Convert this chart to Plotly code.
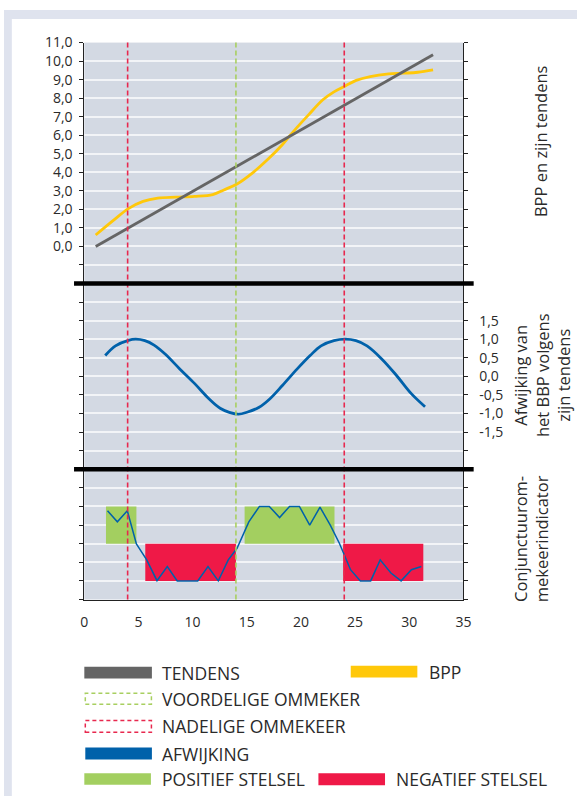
import plotly.graph_objects as go

# ---------------- data ----------------
trend_x = [1.05, 32.2]
trend_y = [0.0, 10.34]

bpp_x = [1.05, 2.71, 4.07, 5.42, 6.78, 8.47, 10.17, 11.86, 12.88, 14.1, 15.6, 16.95,
         18.3, 19.3, 20.7, 22.0, 23.05, 24.1, 25.1, 26.4, 28.1, 29.5, 30.8, 32.2]
bpp_y = [0.62, 1.42, 2.04, 2.43, 2.61, 2.66, 2.70, 2.80, 3.05, 3.37, 4.0, 4.70,
         5.5, 6.2, 7.1, 7.9, 8.34, 8.66, 8.96, 9.17, 9.31, 9.35, 9.40, 9.53]

dev_x = [1.93, 2.88, 4.07, 4.75, 5.59, 6.44, 7.46, 8.81, 10.17, 11.53, 12.54, 13.39, 14.24,
         15.08, 16.1, 17.12, 18.31, 19.66, 20.85, 21.86, 23.05, 24.07, 25.08, 26.1, 27.46,
         28.81, 30.17, 31.46]
dev_y = [0.56, 0.82, 0.97, 1.0, 0.96, 0.84, 0.60, 0.20, -0.19, -0.61, -0.86, -0.97, -1.02,
         -0.96, -0.84, -0.61, -0.24, 0.20, 0.56, 0.82, 0.96, 1.0, 0.96, 0.82, 0.47,
         0.03, -0.46, -0.82]

ind_x = [2.14, 3.05, 3.97, 4.81, 5.76, 6.71, 7.66, 8.58, 9.53, 10.47, 11.42, 12.37, 13.29,
         14.1, 15.19, 16.17, 17.08, 18.03, 18.95, 19.86, 20.81, 21.76, 22.71, 23.56, 24.58,
         25.49, 26.44, 27.32, 28.31, 29.25, 30.2, 31.12]
ind_y = [4.77, 4.17, 4.77, 2.98, 2.13, 1.01, 1.77, 1.0, 1.0, 1.0, 1.77, 1.0, 2.13,
         2.75, 4.17, 5.0, 5.0, 4.4, 5.0, 5.0, 3.99, 4.96, 3.99, 3.01, 1.6,
         1.0, 1.0, 2.13, 1.42, 1.0, 1.6, 1.77]

pos_start = [2.0, 14.8]
pos_end = [4.81, 23.1]
pos_range = [3, 5]
neg_start = [5.63, 23.9]
neg_end = [14.0, 31.3]
neg_range = [1, 3]

favourable_turns = [14]
unfavourable_turns = [4, 24]

x_ticks = [0, 5, 10, 15, 20, 25, 30, 35]
top_ticks = list(range(-2, 12))
mid_ticks = [-2.5, -2.0, -1.5, -1.0, -0.5, 0.0, 0.5, 1.0, 1.5, 2.0, 2.5]
bot_ticks = list(range(0, 8))

# ---------------- style ----------------
W, H = 585, 796
C_TREND = "#656565"
C_BPP = "#ffc80a"
C_DEV = "#0061aa"
C_POS = "#a3cf60"
C_NEG = "#ef1947"
C_RED = "#e8284e"
C_GREEN = "#a8cf60"
C_PLOT = "#d3d9e3"
C_TEXT = "#2a2a2a"
FONT = "Open Sans"


def px(x):
    return x / W


def py(y):
    return 1 - y / H


def fmt(v):
    return f"{v:.1f}".replace(".", ",")


fig = go.Figure()

# regime rectangles (bottom panel)
for s, e in zip(pos_start, pos_end):
    fig.add_trace(go.Scatter(x=[s, e, e, s, s],
                             y=[pos_range[0], pos_range[0], pos_range[1], pos_range[1], pos_range[0]],
                             fill="toself", fillcolor=C_POS, line=dict(width=0), mode="lines",
                             xaxis="x", yaxis="y3", hoverinfo="skip"))
for s, e in zip(neg_start, neg_end):
    fig.add_trace(go.Scatter(x=[s, e, e, s, s],
                             y=[neg_range[0], neg_range[0], neg_range[1], neg_range[1], neg_range[0]],
                             fill="toself", fillcolor=C_NEG, line=dict(width=0), mode="lines",
                             xaxis="x", yaxis="y3", hoverinfo="skip"))

fig.add_trace(go.Scatter(x=ind_x, y=ind_y, mode="lines", line=dict(color=C_DEV, width=1.5),
                         xaxis="x", yaxis="y3"))

fig.add_trace(go.Scatter(x=bpp_x, y=bpp_y, mode="lines", line=dict(color=C_BPP, width=2.8, shape="spline"),
                         xaxis="x", yaxis="y"))
fig.add_trace(go.Scatter(x=trend_x, y=trend_y, mode="lines", line=dict(color=C_TREND, width=2.8),
                         xaxis="x", yaxis="y"))

fig.add_trace(go.Scatter(x=dev_x, y=dev_y, mode="lines", line=dict(color=C_DEV, width=2.8, shape="spline"),
                         xaxis="x", yaxis="y2"))

shapes = []
# outer light strips
shapes.append(dict(type="rect", xref="paper", yref="paper", x0=0, x1=1, y0=py(9), y1=1,
                   fillcolor="#dfe3ee", line=dict(width=0), layer="below"))
shapes.append(dict(type="rect", xref="paper", yref="paper", x0=0, x1=px(8), y0=0, y1=1,
                   fillcolor="#dfe3ee", line=dict(width=0), layer="below"))

# turning point lines
for t in unfavourable_turns:
    shapes.append(dict(type="line", xref="x", yref="paper", x0=t, x1=t, y0=py(597), y1=py(33),
                       line=dict(color=C_RED, width=1.6, dash="5px,3px")))
for t in favourable_turns:
    shapes.append(dict(type="line", xref="x", yref="paper", x0=t, x1=t, y0=py(597), y1=py(33),
                       line=dict(color=C_GREEN, width=1.6, dash="5px,3px")))

# black separators
for yy in (277, 465):
    shapes.append(dict(type="line", xref="paper", yref="paper", x0=px(71.5), x1=px(479.5),
                       y0=py(yy), y1=py(yy), line=dict(color="#000000", width=4.5)))

# legend
legend_items = [
    ("TENDENS", 82, 151, 665, 677, C_TREND, None, 159),
    ("BPP", 354, 422, 664, 676, C_BPP, None, 432),
    ("VOORDELIGE OMMEKER", 83, 150.5, 692, 703, None, C_GREEN, 159),
    ("NADELIGE OMMEKEER", 83, 150.5, 719.5, 731.5, None, C_RED, 159),
    ("AFWIJKING", 83, 151, 747, 759, C_DEV, None, 159),
    ("POSITIEF STELSEL", 82, 150, 773, 784.5, C_POS, None, 159),
    ("NEGATIEF STELSEL", 321, 389, 773, 785, C_NEG, None, 398.5),
]
annotations = []
for name, x0, x1, y0, y1, fillc, dashc, tx in legend_items:
    if fillc:
        shapes.append(dict(type="rect", xref="paper", yref="paper", x0=px(x0), x1=px(x1),
                           y0=py(y1), y1=py(y0), fillcolor=fillc, line=dict(width=0)))
    else:
        shapes.append(dict(type="rect", xref="paper", yref="paper", x0=px(x0), x1=px(x1),
                           y0=py(y1), y1=py(y0), fillcolor="rgba(0,0,0,0)",
                           line=dict(color=dashc, width=1.5, dash="4px,3px")))
    annotations.append(dict(text=name, xref="paper", yref="paper", x=px(tx), y=py((y0 + y1) / 2),
                            xanchor="left", yanchor="middle", showarrow=False,
                            font=dict(family=FONT, size=17.5, color=C_TEXT)))

# right titles
annotations.append(dict(text="BPP en zijn tendens", xref="paper", yref="paper", x=px(548), y=py(133),
                        textangle=-90, showarrow=False, xanchor="center", yanchor="middle",
                        font=dict(family=FONT, size=16.5, color=C_TEXT)))
annotations.append(dict(text="Afwijking van<br>het BBP volgens<br>zijn tendens", xref="paper", yref="paper",
                        x=px(550), y=py(370), textangle=-90, showarrow=False, xanchor="center",
                        yanchor="middle", font=dict(family=FONT, size=16.5, color=C_TEXT)))
annotations.append(dict(text="Conjunctuurom-<br>mekeerindicator", xref="paper", yref="paper",
                        x=px(538), y=py(535), textangle=-90, showarrow=False, xanchor="center",
                        yanchor="middle", font=dict(family=FONT, size=16.5, color=C_TEXT)))

axis_common = dict(showline=True, linecolor="#222222", linewidth=1, mirror="ticks", ticks="outside",
                   ticklen=4, tickcolor="#222222", tickwidth=1, zeroline=False, showgrid=True,
                   gridcolor="#f2f4f7", gridwidth=1.6, anchor="x",
                   tickfont=dict(family=FONT, size=14, color=C_TEXT))

fig.update_layout(
    width=W, height=H, margin=dict(l=0, r=0, t=0, b=0),
    paper_bgcolor="#ffffff", plot_bgcolor=C_PLOT, showlegend=False,
    xaxis=dict(domain=[px(82), px(469)], range=[0, 35], anchor="y3", tickvals=x_ticks,
               ticktext=[str(v) for v in x_ticks], showgrid=False, zeroline=False,
               showline=True, linecolor="#222222", linewidth=1, ticks="outside", ticklen=10,
               tickcolor="rgba(0,0,0,0)", tickfont=dict(family=FONT, size=14, color=C_TEXT)),
    yaxis=dict(domain=[py(277), py(33)], range=[-2, 11], tickvals=top_ticks, ticklabelstandoff=4,
               ticktext=[fmt(v) if v >= 0 else "" for v in top_ticks], **axis_common),
    yaxis2=dict(domain=[py(465), py(277)], range=[-2.5, 2.5], tickvals=mid_ticks, side="right",
                ticklabelstandoff=8,
                ticktext=[fmt(v) if abs(v) <= 1.5 else "" for v in mid_ticks], **axis_common),
    yaxis3=dict(domain=[py(597), py(465)], range=[0, 7], tickvals=bot_ticks,
                ticktext=["" for v in bot_ticks], **axis_common),
    shapes=shapes, annotations=annotations,
)

fig.write_html("out.html", config={"displayModeBar": False},
               post_script="document.body.style.margin='0px';document.body.style.overflow='hidden';")
